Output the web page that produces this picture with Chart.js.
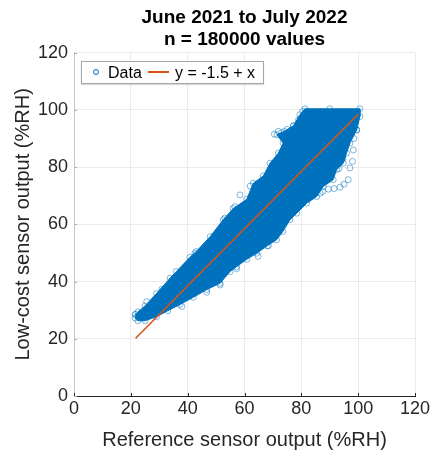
<!DOCTYPE html>
<html><head><meta charset="utf-8">
<script src="https://cdn.jsdelivr.net/npm/chart.js@4.4.0/dist/chart.umd.min.js"></script>
<style>
html,body{margin:0;padding:0;background:#fff;}
#wrap{position:relative;width:430px;height:452px;}
canvas{display:block;}
#legend{position:absolute;left:81px;top:61px;width:181px;height:21px;border:1px solid #a6a6a6;background:#fff;font-family:'Liberation Sans',Arial,Helvetica,sans-serif;font-size:16px;color:#000;box-shadow:0 1px 1px rgba(0,0,0,0.15);}
#legend span{position:absolute;top:0;line-height:21px;white-space:nowrap;}
#legend .mk{position:absolute;left:11px;top:7px;width:4px;height:4px;border:0.8px solid #0072BD;border-radius:50%;}
#legend .ln{position:absolute;left:66px;top:9px;width:21px;height:2px;background:#D95319;}
</style></head>
<body><div id="wrap"><canvas id="c" width="430" height="452"></canvas>
<div id="legend"><div class="mk"></div><span style="left:26px">Data</span><div class="ln"></div><span style="left:93px">y = -1.5 + x</span></div>
</div>
<script>
// Dense cloud outline (Reference %RH, Low-cost %RH)
const cloudX = [21.6, 22.5, 25, 29, 33.8, 36, 40.8, 43, 47.9, 52.5, 56, 60.8, 63.1, 66.6, 69, 71.9, 73.6, 71.4, 74, 77.2, 79.5, 81.3, 90, 100.6, 100.6, 99.5, 97.1, 95.9, 94.8, 92.4, 91.2, 87.7, 85.4, 81.9, 78.4, 76, 73.5, 71.3, 68, 64.3, 60.8, 57.2, 54.9, 51.4, 46.7, 42, 37.3, 33, 29, 25, 22.5, 21.5, 21.6];
const cloudY = [28.5, 29.4, 31.5, 35.8, 41.2, 43.5, 48.5, 50.5, 55.7, 61.6, 65.5, 68.8, 74.4, 76.9, 81.4, 84.9, 88.4, 91.3, 92.5, 94.5, 98.3, 100.4, 100.4, 100.4, 97.7, 93, 88.4, 84.9, 81.4, 79.1, 75.6, 73.2, 69.7, 67.4, 63.9, 61.6, 57.5, 54.6, 52.5, 49.9, 47.8, 45.2, 43.5, 39.4, 37.2, 34.5, 32, 29.8, 27.7, 26.3, 26.3, 27.3, 28.5];
// Scattered individual points outside the dense cloud
const outlierX = [25.6, 30.9, 42.6, 53.1, 56.6, 58.4, 62, 70.5, 71.9, 73, 75, 77.2, 79, 80.5, 98.5, 98.3, 98, 97.1, 96.5, 95, 93.6, 91.5, 89.5, 87.5, 86.6, 99.5, 93.2, 94.6, 68.4, 64.8, 57.2, 51.4, 46.7, 38];
const outlierY = [33, 37.3, 49.9, 62.2, 66.2, 70.3, 73.4, 91.5, 92.5, 92, 93.2, 94.4, 96.5, 99.5, 90, 86, 82, 79.7, 75.6, 74, 73, 72.5, 72.3, 71.5, 70.9, 93, 79.5, 83, 52.5, 48.8, 44.5, 38.8, 36.3, 31.3];
// Fit line y = -1.5 + x
const fitX = [21.7, 100];
const fitY = [20.2, 98.5];
const xTicks = [0, 20, 40, 60, 80, 100, 120];
const yTicks = [0, 20, 40, 60, 80, 100, 120];

const FONT = "'Liberation Sans', Arial, Helvetica, sans-serif";
const BLUE = 'rgb(0,114,189)';
const toPts = (xs, ys) => xs.map((x, i) => ({x: x, y: ys[i]}));

const tickMarks = {
  id: 'tickMarks',
  afterLayout(chart) {
    chart.titleBlock.left = chart.chartArea.left;
    chart.titleBlock.right = chart.chartArea.right;
  },
  afterDraw(chart) {
    const ctx = chart.ctx, xs = chart.scales.x, ys = chart.scales.y, a = chart.chartArea;
    ctx.save();
    ctx.lineWidth = 1;
    ctx.strokeStyle = '#262626';
    xTicks.forEach(v => { const p = Math.round(xs.getPixelForValue(v)) + 0.5; ctx.beginPath(); ctx.moveTo(p, a.bottom); ctx.lineTo(p, a.bottom - 3); ctx.stroke(); });
    ctx.strokeStyle = '#b0b0b0';
    yTicks.forEach(v => { const p = Math.round(ys.getPixelForValue(v)) + 0.5; ctx.beginPath(); ctx.moveTo(a.left, p); ctx.lineTo(a.left + 3, p); ctx.stroke(); });
    ctx.restore();
  }
};

new Chart(document.getElementById('c'), {
  type: 'line',
  data: {
    datasets: [
      {label: 'y = -1.5 + x', data: toPts(fitX, fitY), borderColor: '#D95319', borderWidth: 1.6, pointRadius: 0, fill: false, order: 0},
      {label: 'outliers', data: toPts(outlierX, outlierY), showLine: false, pointRadius: 3, pointBorderWidth: 0.6, pointBorderColor: 'rgba(0,114,189,0.85)', pointBackgroundColor: 'rgba(0,0,0,0)', order: 1},
      {label: 'Data', data: toPts(cloudX, cloudY), borderColor: BLUE, borderWidth: 1, backgroundColor: BLUE, fill: 'shape', pointRadius: 3, pointBorderWidth: 0.6, pointBorderColor: 'rgba(0,114,189,0.85)', pointBackgroundColor: 'rgba(0,0,0,0)', tension: 0, order: 2}
    ]
  },
  options: {
    responsive: false,
    animation: false,
    events: [],
    layout: {padding: {left: 0, right: 15, top: 0, bottom: 0}},
    plugins: {
      legend: {display: false},
      tooltip: {enabled: false},
      title: {display: true, text: ['June 2021 to July 2022', 'n = 180000 values'], color: '#000', font: {family: FONT, size: 19, weight: 'bold', lineHeight: 1.15}, padding: {top: 7, bottom: 2}}
    },
    scales: {
      x: {
        type: 'linear', min: 0, max: 120,
        afterBuildTicks(s) { s.ticks = xTicks.map(v => ({value: v})); },
        afterFit(s) { s.height = 56; s.paddingLeft = 0; s.paddingRight = 0; },
        ticks: {font: {family: FONT, size: 18}, color: '#262626', padding: 2, maxRotation: 0},
        grid: {color: '#ebebeb', drawTicks: false},
        border: {color: '#262626', width: 1},
        title: {display: true, text: 'Reference sensor output (%RH)', color: '#262626', font: {family: FONT, size: 20}, padding: {top: 0, bottom: 0}}
      },
      y: {
        type: 'linear', min: 0, max: 120,
        afterBuildTicks(s) { s.ticks = yTicks.map(v => ({value: v})); },
        afterFit(s) { s.width = 74; s.paddingTop = 0; s.paddingBottom = 0; },
        ticks: {font: {family: FONT, size: 18}, color: '#262626', padding: 6},
        grid: {color: '#ebebeb', drawTicks: false},
        border: {color: '#c4c4c4', width: 1},
        title: {display: true, text: 'Low-cost sensor output (%RH)', color: '#262626', font: {family: FONT, size: 20}, padding: {top: 11, bottom: 0}}
      }
    }
  },
  plugins: [tickMarks]
});
</script>
</body></html>
